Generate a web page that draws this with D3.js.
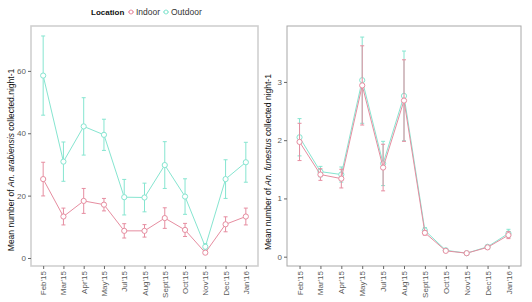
<!DOCTYPE html>
<html lang="en">
<head>
<meta charset="UTF-8">
<title>Mean number of Anopheles collected per night</title>
<style>
    body { margin: 0; background: #fff; font-family: 'Liberation Sans', Arial, sans-serif; }
    .tick text { fill: #5a5a5a; font-size: 8px; }
    .tick line { stroke: #666; }
    .domain { display: none; }
    .ytitle { font-size: 8.5px; fill: #111; }
</style>
</head>
<body>
<div id="chart"></div>
<script src="https://d3js.org/d3.v7.min.js"></script>
<script>
const months = ["Feb'15", "Mar'15", "Apr'15", "May'15", "Jul'15", "Aug'15", "Sept'15", "Oct'15", "Nov'15", "Dec'15", "Jan'16"];

// An. arabiensis
const arabIndoor = [25.3, 13.3, 18.3, 17.1, 8.7, 8.7, 12.8, 9.0, 1.7, 10.8, 13.3];
const arabIndoorErr = [5.4, 2.7, 4.0, 2.0, 2.3, 2.0, 3.3, 2.1, 0.5, 2.4, 2.7];
const arabOutdoor = [58.5, 30.9, 42.2, 39.5, 19.5, 19.4, 29.8, 19.7, 3.6, 25.3, 30.7];
const arabOutdoorErr = [12.7, 6.3, 9.2, 5.0, 5.7, 4.6, 7.5, 5.7, 1.0, 6.2, 6.4];

// An. funestus
const funIndoor = [1.97, 1.41, 1.34, 2.94, 1.53, 2.68, 0.41, 0.10, 0.06, 0.16, 0.37];
const funIndoorErr = [0.32, 0.10, 0.16, 0.68, 0.40, 0.70, 0.04, 0.01, 0.01, 0.01, 0.06];
const funOutdoor = [2.05, 1.46, 1.41, 3.03, 1.60, 2.76, 0.45, 0.11, 0.06, 0.17, 0.40];
const funOutdoorErr = [0.32, 0.09, 0.13, 0.74, 0.38, 0.77, 0.05, 0.01, 0.01, 0.01, 0.07];

const yTicksLeft = [0, 20, 40, 60];
const yTicksRight = [0, 1, 2, 3];

const colIndoor = "#e68da0";
const colOutdoor = "#86e5d0";

const W = 532, H = 302;
const svg = d3.select("#chart").append("svg").attr("width", W).attr("height", H);

function panel(opts) {
    const x = d3.scalePoint().domain(months).range([opts.left, opts.right]).padding(0.6);
    const y = d3.scaleLinear().domain(opts.ydom).range([266, 26]);
    const g = svg.append("g");

    g.append("rect")
        .attr("x", opts.left).attr("y", 26)
        .attr("width", opts.right - opts.left).attr("height", 240)
        .attr("fill", "none").attr("stroke", opts.border).attr("stroke-width", opts.bw);

    g.append("g").attr("transform", `translate(${opts.left},0)`)
        .call(d3.axisLeft(y).tickValues(opts.ticks).tickFormat(d3.format("d")).tickSize(3).tickPadding(2));

    g.append("g").attr("transform", "translate(0,266)")
        .call(d3.axisBottom(x).tickSize(3).tickPadding(2))
        .selectAll("text")
        .attr("transform", "rotate(-90)")
        .attr("x", -5).attr("y", 0).attr("dy", "0.32em")
        .style("text-anchor", "end");

    const series = [
        { vals: opts.out, err: opts.outErr, col: colOutdoor },
        { vals: opts.ind, err: opts.indErr, col: colIndoor }
    ];
    series.forEach(s => {
        const pts = months.map((m, i) => ({ m, v: s.vals[i], e: s.err[i] }));
        g.append("path").datum(pts)
            .attr("fill", "none").attr("stroke", s.col).attr("stroke-width", 1)
            .attr("d", d3.line().x(d => x(d.m)).y(d => y(d.v)));
        const eb = g.append("g").attr("stroke", s.col).attr("stroke-width", 1);
        eb.selectAll(".v").data(pts).enter().append("line")
            .attr("x1", d => x(d.m)).attr("x2", d => x(d.m))
            .attr("y1", d => y(d.v - d.e)).attr("y2", d => y(d.v + d.e));
        eb.selectAll(".t").data(pts).enter().append("line")
            .attr("x1", d => x(d.m) - 2).attr("x2", d => x(d.m) + 2)
            .attr("y1", d => y(d.v + d.e)).attr("y2", d => y(d.v + d.e));
        eb.selectAll(".b").data(pts).enter().append("line")
            .attr("x1", d => x(d.m) - 2).attr("x2", d => x(d.m) + 2)
            .attr("y1", d => y(d.v - d.e)).attr("y2", d => y(d.v - d.e));
        g.selectAll(null).data(pts).enter().append("circle")
            .attr("cx", d => x(d.m)).attr("cy", d => y(d.v)).attr("r", 2.6)
            .attr("fill", "#fff").attr("stroke", s.col).attr("stroke-width", 1);
    });

    const t = svg.append("text").attr("class", "ytitle")
        .attr("transform", `translate(${opts.titleX},${opts.titleY}) rotate(-90)`)
        .attr("text-anchor", "middle");
    t.append("tspan").text("Mean number of  ");
    t.append("tspan").style("font-style", "italic").text(opts.species);
    t.append("tspan").text("  " + opts.tail);
}

panel({
    left: 31, right: 258, ydom: [-2.57, 74.4], ticks: yTicksLeft,
    ind: arabIndoor, indErr: arabIndoorErr, out: arabOutdoor, outErr: arabOutdoorErr,
    border: "#d0d0d0", bw: 1.6, titleX: 14, titleY: 160,
    species: "An. arabiensis", tail: "collected.night-1"
});

panel({
    left: 287, right: 521, ydom: [-0.16, 3.96], ticks: yTicksRight,
    ind: funIndoor, indErr: funIndoorErr, out: funOutdoor, outErr: funOutdoorErr,
    border: "#a8a8a8", bw: 1, titleX: 271, titleY: 162,
    species: "An. funestus", tail: "collected night-1"
});

// legend
const lg = svg.append("g").attr("font-size", 8.5);
lg.append("text").attr("x", 91).attr("y", 15).attr("font-weight", "bold").attr("font-size", 8).attr("fill", "#111").text("Location");
[["Indoor", colIndoor, 131], ["Outdoor", colOutdoor, 166]].forEach(([name, col, lx]) => {
    lg.append("line").attr("x1", lx - 3).attr("x2", lx + 3).attr("y1", 12).attr("y2", 12).attr("stroke", col);
    lg.append("circle").attr("cx", lx).attr("cy", 12).attr("r", 2).attr("fill", "#fff").attr("stroke", col);
    lg.append("text").attr("x", lx + 5).attr("y", 15).attr("fill", "#333").text(name);
});
</script>
</body>
</html>
